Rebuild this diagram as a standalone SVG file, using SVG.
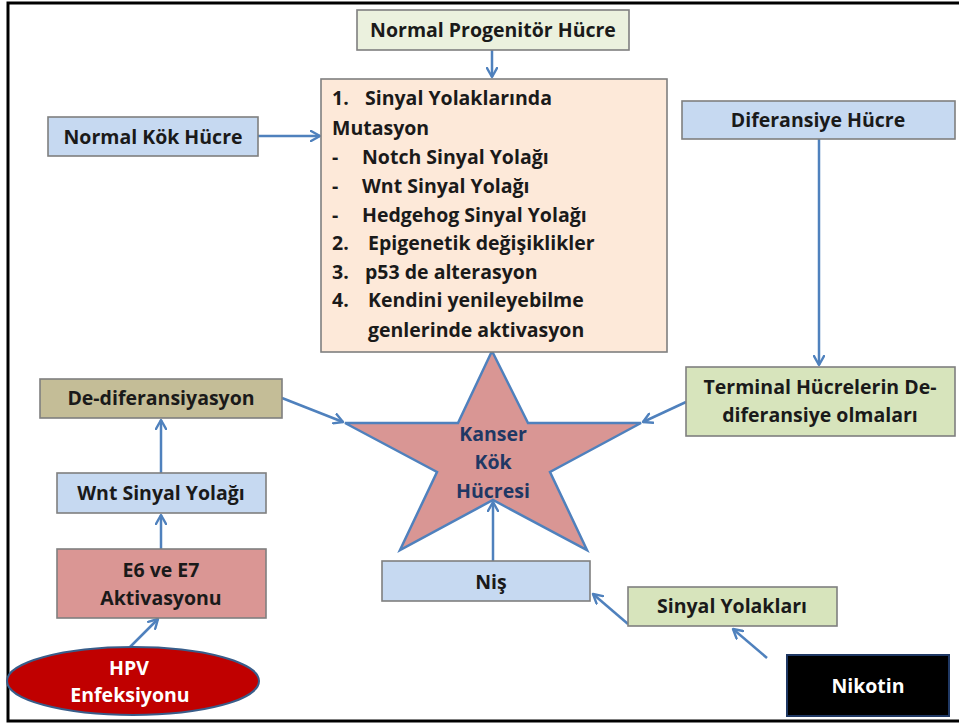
<svg xmlns="http://www.w3.org/2000/svg" width="959" height="727" viewBox="0 0 959 727">
<defs>
<marker id="arr" viewBox="0 0 12 12" refX="10" refY="6" markerWidth="12" markerHeight="12" markerUnits="userSpaceOnUse" orient="auto">
<path d="M1,1 L10,6 L1,11" fill="none" stroke="#4f81bd" stroke-width="2.4" stroke-linecap="round" stroke-linejoin="round"/>
</marker>
</defs>
<style>
.box{stroke:#7f7f7f;stroke-width:1.6}
.t{font-family:"Open Sans","Liberation Sans",sans-serif;font-weight:700;font-size:19.5px;fill:#1a1a1a}
.c{text-anchor:middle}
.w{fill:#ffffff}
.n{fill:#1f3864}
.conn line{stroke:#4f81bd;stroke-width:2.5;fill:none;marker-end:url(#arr)}
</style>
<rect x="0" y="0" width="959" height="727" fill="#ffffff"/>
<rect x="8" y="3" width="960" height="718" fill="none" stroke="#000000" stroke-width="3"/>

<g id="star">
<polygon points="492,351 528,423 641,423 550,472 587,550 493,500 400,550 437,472 345,423 458,423" fill="#d99694" stroke="#4f81bd" stroke-width="2.5" stroke-linejoin="miter"/>
<text class="t c n" x="493" y="441">Kanser</text>
<text class="t c n" x="493" y="469">Kök</text>
<text class="t c n" x="493" y="498">Hücresi</text>
</g>

<g class="conn" id="connectors">
<line x1="492" y1="50" x2="492" y2="77"/>
<line x1="258" y1="136" x2="320" y2="136"/>
<line x1="819" y1="139" x2="819" y2="365"/>
<line x1="686" y1="402" x2="643" y2="422"/>
<line x1="282" y1="398" x2="343" y2="422"/>
<line x1="161" y1="473" x2="161" y2="420"/>
<line x1="161" y1="549" x2="161" y2="515"/>
<line x1="130" y1="647" x2="158" y2="619"/>
<line x1="493" y1="561" x2="493" y2="502"/>
<line x1="628" y1="624" x2="593" y2="594"/>
<line x1="767" y1="658" x2="733" y2="629"/>
</g>

<g id="normal-progenitor">
<rect class="box" x="357" y="10" width="272" height="40" fill="#ebf1de"/>
<text class="t c" x="493" y="37">Normal Progenitör Hücre</text>
</g>

<g id="mutasyon">
<rect class="box" x="321" y="79" width="346" height="273" fill="#fde9d9"/>
<text class="t" x="332" y="105">1.<tspan x="365">Sinyal Yolaklarında</tspan></text>
<text class="t" x="332" y="135">Mutasyon</text>
<text class="t" x="332" y="164">-<tspan x="362">Notch Sinyal Yolağı</tspan></text>
<text class="t" x="332" y="193">-<tspan x="362">Wnt Sinyal Yolağı</tspan></text>
<text class="t" x="332" y="222">-<tspan x="362">Hedgehog Sinyal Yolağı</tspan></text>
<text class="t" x="332" y="250">2.<tspan x="368">Epigenetik değişiklikler</tspan></text>
<text class="t" x="332" y="279">3.<tspan x="365">p53 de alterasyon</tspan></text>
<text class="t" x="332" y="307">4.<tspan x="368">Kendini yenileyebilme</tspan></text>
<text class="t" x="368" y="337">genlerinde aktivasyon</text>
</g>

<g id="normal-kok">
<rect class="box" x="48" y="117" width="210" height="39" fill="#c6d9f1"/>
<text class="t c" x="153" y="144">Normal Kök Hücre</text>
</g>

<g id="diferansiye">
<rect class="box" x="682" y="101" width="273" height="38" fill="#c6d9f1"/>
<text class="t c" x="818" y="127">Diferansiye Hücre</text>
</g>

<g id="terminal">
<rect class="box" x="686" y="367" width="269" height="69" fill="#d7e4bc"/>
<text class="t c" x="820" y="394">Terminal Hücrelerin De-</text>
<text class="t c" x="820" y="422">diferansiye olmaları</text>
</g>

<g id="de-diferansiyasyon">
<rect class="box" x="40" y="379" width="242" height="39" fill="#c4bd97"/>
<text class="t c" x="161" y="405">De-diferansiyasyon</text>
</g>

<g id="wnt">
<rect class="box" x="57" y="473" width="209" height="40" fill="#c6d9f1"/>
<text class="t c" x="161" y="500">Wnt Sinyal Yolağı</text>
</g>

<g id="e6e7">
<rect class="box" x="57" y="549" width="209" height="69" fill="#da9694"/>
<text class="t c" x="161" y="577">E6 ve E7</text>
<text class="t c" x="161" y="605">Aktivasyonu</text>
</g>

<g id="hpv">
<ellipse cx="133" cy="681" rx="126" ry="34" fill="#c00000" stroke="#385d8a" stroke-width="2"/>
<text class="t c w" x="129" y="675">HPV</text>
<text class="t c w" x="130" y="702">Enfeksiyonu</text>
</g>

<g id="nis">
<rect class="box" x="382" y="561" width="208" height="40" fill="#c6d9f1"/>
<text class="t c" x="491" y="589">Niş</text>
</g>

<g id="sinyal-yolaklari">
<rect class="box" x="628" y="587" width="209" height="39" fill="#d7e4bc"/>
<text class="t c" x="732" y="613">Sinyal Yolakları</text>
</g>

<g id="nikotin">
<rect x="787" y="655" width="162" height="61" fill="#000000" stroke="#1f3864" stroke-width="2"/>
<text class="t c w" x="868" y="693">Nikotin</text>
</g>
</svg>
